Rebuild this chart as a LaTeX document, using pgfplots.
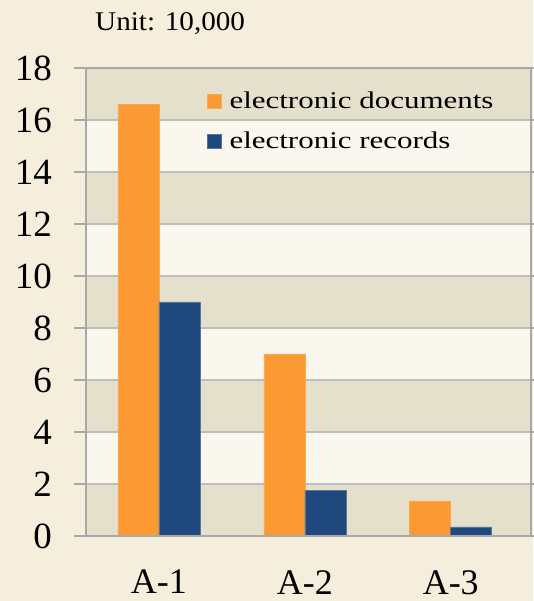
\documentclass[border=0pt]{standalone}
\usepackage{fontspec}
\setmainfont{Liberation Serif}
\newfontfamily\legfont[FakeStretch=1.29]{Liberation Serif}
\newfontfamily\titlefont[FakeStretch=1.08]{Liberation Serif}
\usepackage{pgfplots}
\pgfplotsset{compat=1.18}
\definecolor{bgc}{HTML}{F5EEDC}
\definecolor{darkband}{HTML}{E5E0CB}
\definecolor{lightband}{HTML}{FAF7EF}
\definecolor{gridc}{HTML}{BDBDBD}
\definecolor{axc}{HTML}{A8A8A8}
\definecolor{orng}{HTML}{FB9933}
\definecolor{dblue}{HTML}{1F497D}
\begin{document}
\begin{tikzpicture}[x=1pt,y=1pt]
\fill[bgc] (0,0) rectangle (533,601);
\node[anchor=base west, inner sep=0pt, font=\titlefont\fontsize{27}{30}\selectfont] at (95,570) {Unit: 10,000};
\begin{axis}[
  axis on top,
  at={(86pt,65pt)}, anchor=south west,
  scale only axis, width=445pt, height=468pt,
  xmin=-0.5, xmax=2.55, ymin=0, ymax=18,
  ytick={0,2,...,18},
  xtick={0,1,2}, xticklabels={A-1,A-2,A-3},
  major x tick style={draw=none},
  extra x ticks={-0.5,0.5,1.5},
  extra x tick labels={},
  extra x tick style={major tick length=12pt, tick style={draw=axc, line width=1.5pt}, grid=none},
  tick align=outside,
  major tick length=12pt,
  ytick style={draw=axc, line width=1.5pt},
  axis line style={draw=axc, line width=1.6pt},
  /pgf/number format/assume math mode=true,
  yticklabel style={font=\fontsize{37}{40}\selectfont, anchor=east, inner sep=0pt, xshift=-22pt},
  xticklabel style={font=\fontsize{36}{40}\selectfont, anchor=north, inner sep=0pt, yshift=-22pt},
  ybar=0pt, bar width=41pt,
  legend style={at={(0.272,0.953)}, anchor=north west, draw=none, fill=none, inner sep=0pt,
    font=\legfont\fontsize{24}{28}\selectfont, row sep=18pt, cells={anchor=west}},
  legend image code/.code={\fill[#1] (0pt,-7pt) rectangle (14pt,7pt); \path[draw=none, fill=none] (0pt,0pt) rectangle (20pt,0.1pt);},
]
\fill[lightband] (axis cs:-0.5,0) rectangle (axis cs:2.55,18);
\fill[darkband] (axis cs:-0.5,0) rectangle (axis cs:2.55,2);
\fill[darkband] (axis cs:-0.5,4) rectangle (axis cs:2.55,6);
\fill[darkband] (axis cs:-0.5,8) rectangle (axis cs:2.55,10);
\fill[darkband] (axis cs:-0.5,12) rectangle (axis cs:2.55,14);
\fill[darkband] (axis cs:-0.5,16) rectangle (axis cs:2.55,18);
\draw[gridc, line width=1.6pt] (axis cs:-0.5,2) -- (axis cs:2.55,2);
\draw[gridc, line width=1.6pt] (axis cs:-0.5,4) -- (axis cs:2.55,4);
\draw[gridc, line width=1.6pt] (axis cs:-0.5,6) -- (axis cs:2.55,6);
\draw[gridc, line width=1.6pt] (axis cs:-0.5,8) -- (axis cs:2.55,8);
\draw[gridc, line width=1.6pt] (axis cs:-0.5,10) -- (axis cs:2.55,10);
\draw[gridc, line width=1.6pt] (axis cs:-0.5,12) -- (axis cs:2.55,12);
\draw[gridc, line width=1.6pt] (axis cs:-0.5,14) -- (axis cs:2.55,14);
\draw[gridc, line width=1.6pt] (axis cs:-0.5,16) -- (axis cs:2.55,16);
\addplot[fill=orng, draw=orng!85!white, line width=0.6pt] coordinates {(0,16.6) (1,7.0) (2,1.35)};
\addplot[fill=dblue, draw=dblue!75!white, line width=0.6pt] coordinates {(0,9.0) (1,1.75) (2,0.35)};
\legend{electronic documents, electronic records}
\end{axis}
\pgfresetboundingbox
\useasboundingbox (0,0) rectangle (533,601);
\end{tikzpicture}
\end{document}
